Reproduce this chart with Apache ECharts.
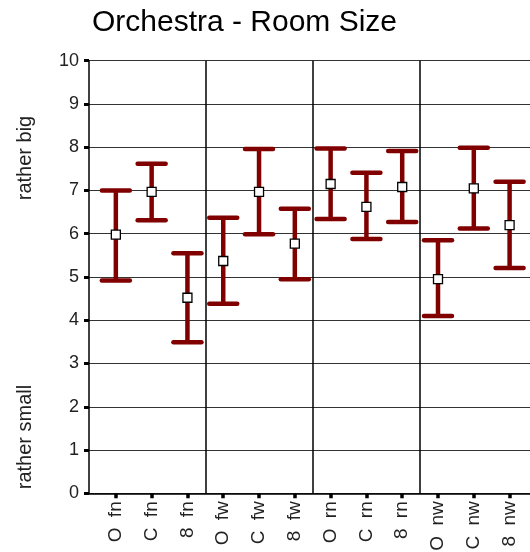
<!DOCTYPE html>
<html>
<head>
<meta charset="utf-8">
<script src="https://cdn.jsdelivr.net/npm/echarts@6/dist/echarts.min.js"></script>
<style>
html,body{margin:0;padding:0;background:#fff;}
#chart{width:530px;height:552px;}
</style>
</head>
<body>
<div id="chart"></div>
<script>
const categories = ['O fn','C fn','8 fn','O fw','C fw','8 fw','O rn','C rn','8 rn','O nw','C nw','8 nw'];
const means  = [5.98, 6.97, 4.52, 5.37, 6.97, 5.77, 7.15, 6.62, 7.08, 4.95, 7.05, 6.20];
const lowers = [4.92, 6.31, 3.49, 4.38, 5.99, 4.95, 6.34, 5.88, 6.27, 4.10, 6.12, 5.21];
const uppers = [7.00, 7.62, 5.55, 6.37, 7.96, 6.58, 7.97, 7.41, 7.91, 5.85, 7.99, 7.20];
const groupSeparators = [2.5, 5.5, 8.5];
const yMin = 0, yMax = 10, yStep = 1;
const titleText = 'Orchestra - Room Size';
const yNameTop = 'rather big';
const yNameBottom = 'rather small';

const FONT = '"Liberation Sans", Arial, sans-serif';
const RED = '#800000';
const idx = categories.map((c, i) => i);

const chart = echarts.init(document.getElementById('chart'), null, {renderer: 'canvas'});
const option = {
  animation: false,
  backgroundColor: '#fff',
  graphic: [
    {type: 'text', x: 244.5, y: 23, style: {text: titleText, font: '30px ' + FONT, fill: '#000', textAlign: 'center', textVerticalAlign: 'middle'}},
    {type: 'text', x: 25, y: 158, rotation: Math.PI / 2, style: {text: yNameTop, font: '20px ' + FONT, fill: '#222', textAlign: 'center', textVerticalAlign: 'middle'}},
    {type: 'text', x: 25, y: 437, rotation: Math.PI / 2, style: {text: yNameBottom, font: '20px ' + FONT, fill: '#222', textAlign: 'center', textVerticalAlign: 'middle'}}
  ],
  grid: {left: 89, right: 0, top: 60.7, bottom: 58.7, containLabel: false, outerBoundsMode: 'none'},
  xAxis: {
    type: 'value', min: -0.75, max: 11.57,
    splitLine: {show: false},
    axisLine: {show: true, onZero: false, lineStyle: {color: '#000', width: 1.5}},
    axisTick: {show: true, customValues: idx, length: 5, lineStyle: {color: '#000', width: 3.5}},
    axisLabel: {
      show: true, customValues: idx, rotate: 90, margin: 8,
      formatter: v => {
        const c = categories[Math.round(v)];
        if (!c) return '';
        const parts = c.split(' ');
        return '{a|' + parts[0] + ' }{b|' + parts[1] + '}';
      },
      rich: {
        a: {fontFamily: FONT, fontSize: 19, color: '#222', padding: [0, 5, 0, 0]},
        b: {fontFamily: FONT, fontSize: 19, color: '#222'}
      }
    }
  },
  yAxis: {
    type: 'value', min: yMin, max: yMax, interval: yStep,
    axisLine: {show: true, onZero: false, lineStyle: {color: '#000', width: 1.5}},
    axisTick: {show: true, length: 5, lineStyle: {color: '#000', width: 3}},
    axisLabel: {fontFamily: FONT, fontSize: 18, color: '#222', margin: 10},
    splitLine: {show: true, lineStyle: {color: '#333', width: 1.2}}
  },
  series: [
    {
      type: 'custom',
      data: idx.map(i => [i, lowers[i], uppers[i]]),
      renderItem: (params, api) => {
        const x = api.value(0);
        const lo = api.coord([x, api.value(1)]);
        const hi = api.coord([x, api.value(2)]);
        const half = 14;
        const st = {stroke: RED, lineWidth: 4.5, lineCap: 'round'};
        return {
          type: 'group',
          children: [
            {type: 'line', shape: {x1: lo[0], y1: lo[1], x2: hi[0], y2: hi[1]}, style: {stroke: RED, lineWidth: 4.5}},
            {type: 'line', shape: {x1: lo[0] - half, y1: lo[1], x2: lo[0] + half, y2: lo[1]}, style: st},
            {type: 'line', shape: {x1: hi[0] - half, y1: hi[1], x2: hi[0] + half, y2: hi[1]}, style: st}
          ]
        };
      },
      markLine: {
        silent: true, symbol: 'none', label: {show: false},
        lineStyle: {color: '#000', width: 1.5, type: 'solid'},
        data: groupSeparators.map(v => ({xAxis: v}))
      },
      z: 2
    },
    {
      type: 'scatter',
      data: idx.map(i => [i, means[i]]),
      symbol: 'rect', symbolSize: 9,
      itemStyle: {color: '#fff', borderColor: '#000', borderWidth: 1.3, opacity: 1},
      z: 3
    }
  ]
};
chart.setOption(option);
</script>
</body>
</html>
